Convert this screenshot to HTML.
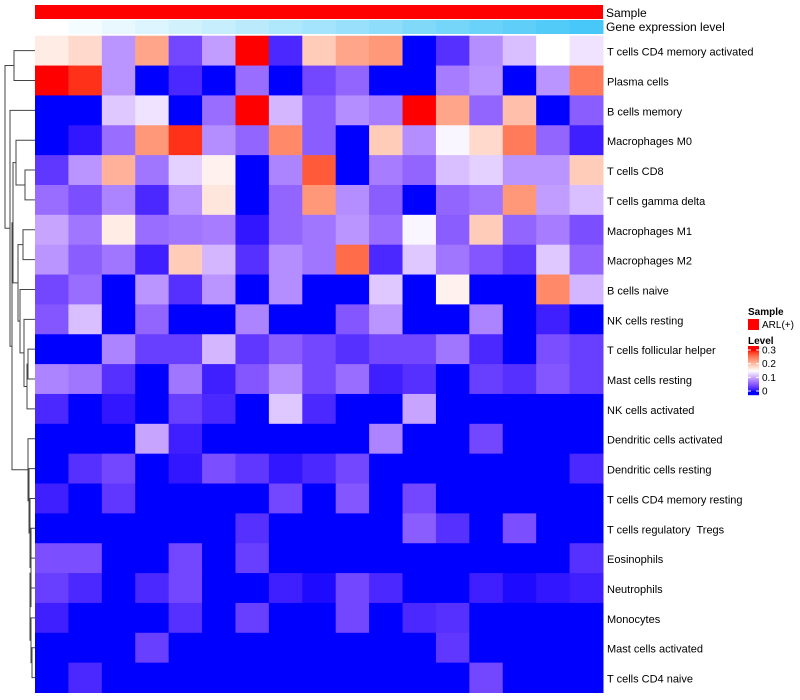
<!DOCTYPE html>
<html><head><meta charset="utf-8"><style>
body{margin:0;background:#fff;}
svg{display:block;font-family:"Liberation Sans",sans-serif;}
text{white-space:pre;}
</style></head><body>
<svg id="chart" width="800" height="700"></svg>
<script>
const rowNames=["T cells CD4 memory activated","Plasma cells","B cells memory","Macrophages M0","T cells CD8","T cells gamma delta","Macrophages M1","Macrophages M2","B cells naive","NK cells resting","T cells follicular helper","Mast cells resting","NK cells activated","Dendritic cells activated","Dendritic cells resting","T cells CD4 memory resting","T cells regulatory  Tregs","Eosinophils","Neutrophils","Monocytes","Mast cells activated","T cells CD4 naive"];
const r01=[0.165,0.18,0.09,0.22,0.04,0.095,0.3,0.02,0.19,0.22,0.23,0,0.025,0.085,0.115,0.15,0.135];
const r02=[0.3,0.29,0.09,0,0.02,0,0.065,0,0.04,0.06,0,0,0.075,0.09,0,0.09,0.25];
const r03=[0,0,0.12,0.135,0,0.065,0.3,0.11,0.055,0.085,0.075,0.3,0.22,0.06,0.2,0,0.055];
const r04=[0,0.01,0.065,0.23,0.29,0.085,0.06,0.24,0.055,0,0.19,0.085,0.145,0.18,0.25,0.06,0.015];
const r05=[0.03,0.09,0.21,0.07,0.125,0.16,0,0.08,0.27,0,0.075,0.06,0.115,0.125,0.09,0.09,0.19];
const r06=[0.065,0.045,0.08,0.02,0.09,0.17,0,0.06,0.23,0.085,0.055,0,0.06,0.07,0.23,0.095,0.115];
const r07=[0.1,0.07,0.165,0.065,0.07,0.075,0.01,0.06,0.07,0.09,0.065,0.145,0.055,0.19,0.06,0.075,0.045];
const r08=[0.09,0.055,0.07,0.015,0.19,0.11,0.025,0.085,0.07,0.26,0.02,0.12,0.07,0.05,0.03,0.12,0.06];
const r09=[0.04,0.065,0,0.09,0.025,0.09,0,0.085,0,0,0.12,0,0.16,0,0,0.24,0.11];
const r10=[0.05,0.115,0,0.06,0,0,0.08,0,0,0.05,0.09,0,0,0.08,0,0.015,0];
const r11=[0,0,0.08,0.035,0.035,0.11,0.03,0.055,0.04,0.025,0.04,0.04,0.07,0.02,0,0.045,0.035];
const r12=[0.08,0.07,0.025,0,0.07,0.015,0.05,0.085,0.04,0.065,0.015,0.025,0,0.035,0.025,0.05,0.035];
const r13=[0.02,0,0.01,0,0.035,0.02,0,0.12,0.02,0,0,0.1,0,0,0,0,0];
const r14=[0,0,0,0.1,0.015,0,0,0,0,0,0.08,0,0,0.04,0,0,0];
const r15=[0,0.025,0.04,0,0.01,0.045,0.03,0.01,0.02,0.04,0,0,0,0,0,0,0.02];
const r16=[0.015,0,0.03,0,0,0,0,0.04,0,0.05,0,0.04,0,0,0,0,0];
const r17=[0,0,0,0,0,0,0.025,0,0,0,0,0.055,0.025,0,0.045,0,0];
const r18=[0.045,0.045,0,0,0.04,0,0.035,0,0,0,0,0,0,0,0,0,0.025];
const r19=[0.035,0.02,0,0.02,0.04,0,0,0.015,0.005,0.04,0.02,0,0,0.015,0.005,0.01,0.015];
const r20=[0.015,0,0,0,0.025,0,0.035,0,0,0.04,0,0.02,0.025,0,0,0,0];
const r21=[0,0,0,0.035,0,0,0,0,0,0,0,0,0.03,0,0,0,0];
const r22=[0,0.02,0,0,0,0,0,0,0,0,0,0,0,0.04,0,0,0];
const values=[r01,r02,r03,r04,r05,r06,r07,r08,r09,r10,r11,r12,r13,r14,r15,r16,r17,r18,r19,r20,r21,r22];
const geneLevels=[0,1,2,3,4,5,6,7,8,9,10,11,12,13,14,15,16];
const legendTicks=[0,0.1,0.2,0.3];

const NS="http://www.w3.org/2000/svg";
const svg=document.getElementById('chart');
const X0=35,X1=603,Y0=35.7,Y1=692.5;
const nC=values[0].length,nR=values.length;
const cw=(X1-X0)/nC,rh=(Y1-Y0)/nR;
const xC=j=>X0+j*cw, yR=i=>Y0+i*rh;
function mk(t,a,p){const el=document.createElementNS(NS,t);for(const k in a)el.setAttribute(k,a[k]);(p||svg).appendChild(el);return el;}
function toLin(c){c/=255;return c<=0.04045?c/12.92:Math.pow((c+0.055)/1.055,2.4);}
function toS(c){c=c<=0.0031308?12.92*c:1.055*Math.pow(c,1/2.4)-0.055;return Math.max(0,Math.min(255,Math.round(c*255)));}
function rgb2lab(r,g,b){r=toLin(r);g=toLin(g);b=toLin(b);
 let x=(r*0.4124+g*0.3576+b*0.1805)/0.95047,y=r*0.2126+g*0.7152+b*0.0722,z=(r*0.0193+g*0.1192+b*0.9505)/1.08883;
 const f=t=>t>0.008856?Math.cbrt(t):7.787*t+16/116;x=f(x);y=f(y);z=f(z);return [116*y-16,500*(x-y),200*(y-z)];}
function lab2rgb(L,a,b){let y=(L+16)/116,x=a/500+y,z=y-b/200;
 const fi=t=>t*t*t>0.008856?t*t*t:(t-16/116)/7.787;x=fi(x)*0.95047;y=fi(y);z=fi(z)*1.08883;
 const rr=x*3.2406+y*-1.5372+z*-0.4986,gg=x*-0.9689+y*1.8758+z*0.0415,bb=x*0.0557+y*-0.2040+z*1.0570;
 return `rgb(${toS(rr)},${toS(gg)},${toS(bb)})`;}
const LB=rgb2lab(0,0,255),LW=rgb2lab(255,255,255),LRd=rgb2lab(255,0,0);
function col(v){v=Math.max(0,Math.min(0.3,v));let a,b,t;
 if(v<=0.15){a=LB;b=LW;t=Math.pow(v/0.15,1.2);}else{a=LW;b=LRd;t=(v-0.15)/0.15;}
 return lab2rgb(a[0]+(b[0]-a[0])*t,a[1]+(b[1]-a[1])*t,a[2]+(b[2]-a[2])*t);}

const sampleBar=mk('rect',{x:X0,y:5,width:X1-X0,height:14,fill:'#ff0000'});


const gmax=geneLevels[geneLevels.length-1];
geneLevels.forEach((g,j)=>{const t=g/gmax;
 const cr=Math.round(255+(72-255)*t),cg=Math.round(255+(200-255)*t),cb=Math.round(255+(248-255)*t);
 const gc=mk('rect',{x:xC(j),y:20,width:cw+0.5,height:14,fill:`rgb(${cr},${cg},${cb})`});
 
 });
const t1=mk('text',{x:606,y:17,'font-size':12});t1.textContent='Sample';


const t2=mk('text',{x:606,y:31,'font-size':12});t2.textContent='Gene expression level';



values.forEach((row,i)=>{row.forEach((v,j)=>{
 const c=mk('rect',{x:xC(j),y:yR(i),width:cw+0.5,height:rh+0.5,fill:col(v)});
 
 });
 const rl=mk('text',{x:607,y:yR(i)+rh/2+5,'font-size':11,fill:'#000'});rl.textContent=rowNames[i];
 
 });

const topPair=[0,1,14];
const upperGroup=[[3,[4,5,25],16],[[6,7,23],[8,[9,[[10,11,28],12,27],24],20],18],13];
const lowerGroup=[13,[14,[15,[16,[[17,18,31],[19,[20,21,32],31],30],31],30],29],28];
const midGroup=[upperGroup,lowerGroup,12];
const restGroup=[2,midGroup,10];
const tree=[topPair,restGroup,5];
const dg=mk('g',{stroke:'#444','stroke-width':1,fill:'none'});


function draw(n){if(typeof n==='number')return {y:yR(n)+rh/2,x:X0};
 const a=draw(n[0]),b=draw(n[1]),x=n[2];
 mk('path',{d:`M${a.x},${a.y}H${x}V${b.y}H${b.x}`},dg);return {y:(a.y+b.y)/2,x:x};}
draw(tree);

const lg=mk('g',{});
let le=mk('text',{x:748,y:315,'font-size':10,'font-weight':'bold'},lg);le.textContent='Sample';
le=mk('rect',{x:748,y:319,width:11,height:11,fill:'#ff0000'},lg);

le=mk('text',{x:762,y:328,'font-size':10},lg);le.textContent='ARL(+)';
le=mk('text',{x:748,y:344,'font-size':10,'font-weight':'bold'},lg);le.textContent='Level';
const ly0=350,ly1=391;
for(let k=0;k<=48;k++){const yy=346+k;const v=0.3*(ly1-yy)/(ly1-ly0);mk('rect',{x:748,y:yy,width:11,height:1.2,fill:col(v)},lg);}
legendTicks.forEach(v=>{const y=ly1-(v/0.3)*(ly1-ly0);
 mk('line',{x1:748,x2:751,y1:y,y2:y,stroke:'#fff'},lg);mk('line',{x1:756,x2:759,y1:y,y2:y,stroke:'#fff'},lg);
 const lt=mk('text',{x:762,y:y+3.5,'font-size':10},lg);lt.textContent=v===0?'0':String(v);
 });
</script>
</body></html>
